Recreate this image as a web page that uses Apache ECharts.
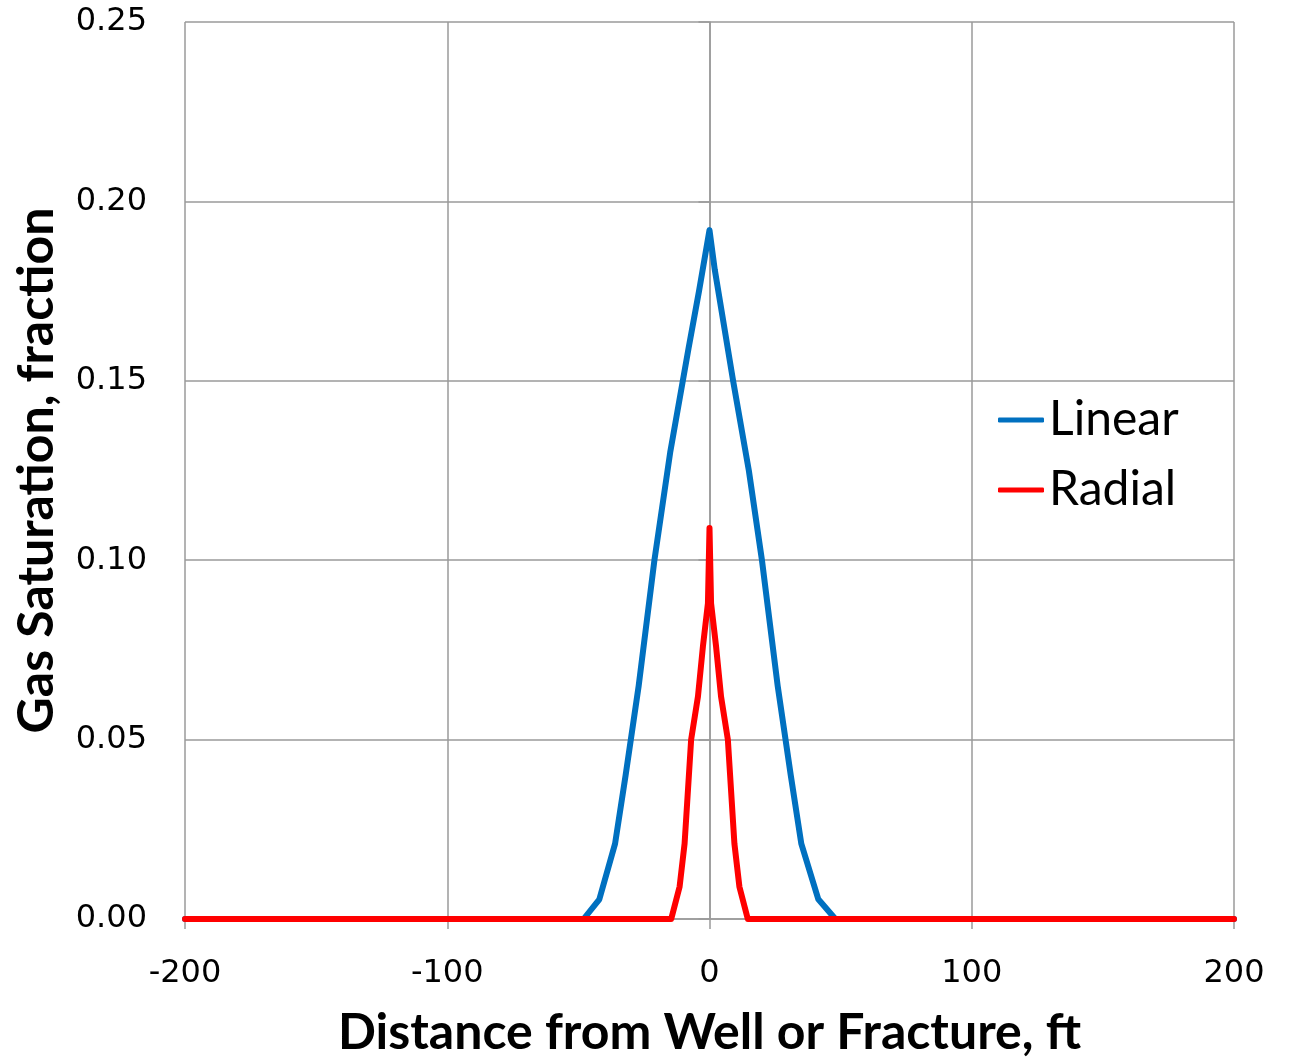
<!DOCTYPE html>
<html>
<head>
<meta charset="utf-8">
<script src="https://cdn.jsdelivr.net/npm/echarts@6/dist/echarts.min.js"></script>
<style>
html,body{margin:0;padding:0;background:#fff;}
#chart{width:1292px;height:1058px;}
</style>
</head>
<body>
<div id="chart"></div>
<script>
// Data
const linearX = [-200, -48, -42, -36, -32, -27, -21, -15, -8, -4, 0, 2, 9, 15, 20, 26, 31, 35, 41.5, 48, 200];
const linearY = [0, 0, 0.0055, 0.021, 0.040, 0.065, 0.100, 0.130, 0.159, 0.175, 0.192, 0.181, 0.150, 0.125, 0.100, 0.065, 0.040, 0.021, 0.0055, 0, 0];
const radialX = [-200, -14.6, -11.4, -9.5, -7.0, -4.4, -2.5, -0.6, 0, 0.6, 2.5, 4.4, 7.0, 9.5, 11.4, 14.6, 200];
const radialY = [0, 0, 0.009, 0.021, 0.050, 0.062, 0.076, 0.088, 0.109, 0.088, 0.076, 0.062, 0.050, 0.021, 0.009, 0, 0];
const seriesNames = ['Linear', 'Radial'];
const xTitle = 'Distance from Well or Fracture, ft';
const yTitle = 'Gas Saturation, fraction';

const pairs = (xs, ys) => xs.map((x, i) => [x, ys[i]]);

const chart = echarts.init(document.getElementById('chart'), null, {renderer: 'canvas'});
const gridColor = '#9a9a9a';
const labelFont = {fontFamily: 'DejaVu Sans', fontSize: 32, color: '#000'};
chart.setOption({
  animation: false,
  backgroundColor: '#fff',
  grid: {left: 185, right: 58, top: 22, bottom: 139, containLabel: false, outerBoundsMode: 'none'},
  legend: {
    orient: 'vertical',
    left: 993,
    top: 391,
    itemWidth: 46,
    itemHeight: 5,
    itemGap: 22,
    icon: 'roundRect',
    textStyle: {fontFamily: 'Lato', fontSize: 48, color: '#000'},
    data: seriesNames
  },
  xAxis: {
    type: 'value',
    min: -200, max: 200, interval: 100,
    name: xTitle,
    nameLocation: 'middle',
    nameGap: 89,
    nameTextStyle: {fontFamily: 'Lato', fontWeight: 'bold', fontSize: 50, color: '#000'},
    axisLine: {show: true, onZero: false, lineStyle: {color: gridColor, width: 1.5}},
    axisTick: {show: true, length: 10, inside: false, lineStyle: {color: gridColor, width: 1.5}},
    axisLabel: Object.assign({margin: 39}, labelFont),
    splitLine: {show: true, lineStyle: {color: gridColor, width: 1.5}}
  },
  yAxis: {
    type: 'value',
    min: 0, max: 0.25, interval: 0.05,
    name: yTitle,
    nameLocation: 'middle',
    nameGap: 123,
    nameTextStyle: {fontFamily: 'Lato', fontWeight: 'bold', fontSize: 50, color: '#000'},
    axisLine: {show: true, lineStyle: {color: gridColor, width: 1.5}},
    axisTick: {show: true, length: 11, inside: false, lineStyle: {color: gridColor, width: 1.5}},
    axisLabel: Object.assign({margin: 38, formatter: v => v.toFixed(2)}, labelFont),
    splitLine: {show: true, lineStyle: {color: gridColor, width: 1.5}}
  },
  series: [
    {
      name: seriesNames[0], type: 'line', data: pairs(linearX, linearY),
      showSymbol: false, symbol: 'none', smooth: false,
      color: '#0070C0',
      lineStyle: {width: 6, color: '#0070C0', cap: 'round', join: 'round'}
    },
    {
      name: seriesNames[1], type: 'line', data: pairs(radialX, radialY),
      showSymbol: false, symbol: 'none', smooth: false,
      color: '#FF0000',
      lineStyle: {width: 6, color: '#FF0000', cap: 'round', join: 'round'}
    }
  ]
});
</script>
</body>
</html>
